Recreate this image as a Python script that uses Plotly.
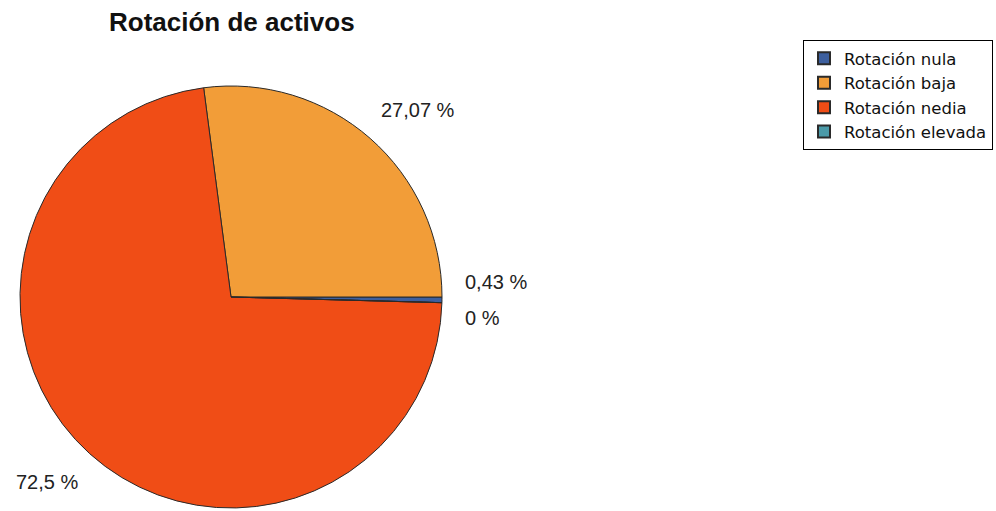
import math
import plotly.graph_objects as go

# ---- data ----
labels = ["Rotación nula", "Rotación baja", "Rotación nedia", "Rotación elevada"]
values = [0.43, 27.07, 72.5, 0.0]
colors = ["#3d5f9e", "#f29d38", "#f04d16", "#4b9aa8"]
title_text = "Rotación de activos"

# ---- layout geometry (pixels) ----
W, H = 996, 511
cx, cy, R = 231, 297, 211
label_rx, label_ry = 232, 243
label_nudge = [-12, 0, 0, 21]   # vertical de-collision of small slices (px)

fig = go.Figure(go.Pie(
    labels=labels,
    values=values,
    sort=False,
    direction="counterclockwise",
    rotation=90,
    textinfo="none",
    hoverinfo="label+percent",
    marker=dict(colors=colors, line=dict(color="#2a2a2a", width=1)),
    domain=dict(x=[(cx - R) / W, (cx + R) / W],
                y=[(H - cy - R) / H, (H - cy + R) / H]),
    showlegend=True,
))

total = sum(values)
cum = 0.0
annotations = []
for i, v in enumerate(values):
    mid = 2 * math.pi * (cum + v / 2) / total
    cum += v
    px = cx + label_rx * math.cos(mid)
    py = cy - label_ry * math.sin(mid) + label_nudge[i]
    txt = f"{v:g}".replace(".", ",") + " %"
    annotations.append(dict(
        x=px / W, y=1 - py / H, xref="paper", yref="paper",
        text=txt, showarrow=False,
        xanchor="left" if math.cos(mid) >= 0 else "right",
        yanchor="middle",
        font=dict(family="Liberation Sans, Arial", size=20, color="#222"),
    ))

annotations.append(dict(
    x=232 / W, y=1 - 22 / H, xref="paper", yref="paper",
    text="<b>" + title_text + "</b>", showarrow=False,
    xanchor="center", yanchor="middle",
    font=dict(family="Liberation Sans, Arial", size=26, color="#111"),
))

fig.update_layout(
    width=W, height=H,
    margin=dict(l=0, r=0, t=0, b=0, autoexpand=False),
    paper_bgcolor="white", plot_bgcolor="white",
    annotations=annotations,
    legend=dict(
        x=993 / W, y=1 - 40 / H, xanchor="right", yanchor="top",
        bordercolor="#000", borderwidth=1, bgcolor="white",
        font=dict(family="DejaVu Sans", size=16.5, color="#111"),
        tracegroupgap=0, itemsizing="constant",
    ),
)

fig.write_html(
    "out.html",
    config={"displayModeBar": False},
    post_script="document.body.style.margin='0';document.body.style.overflow='hidden';",
)
